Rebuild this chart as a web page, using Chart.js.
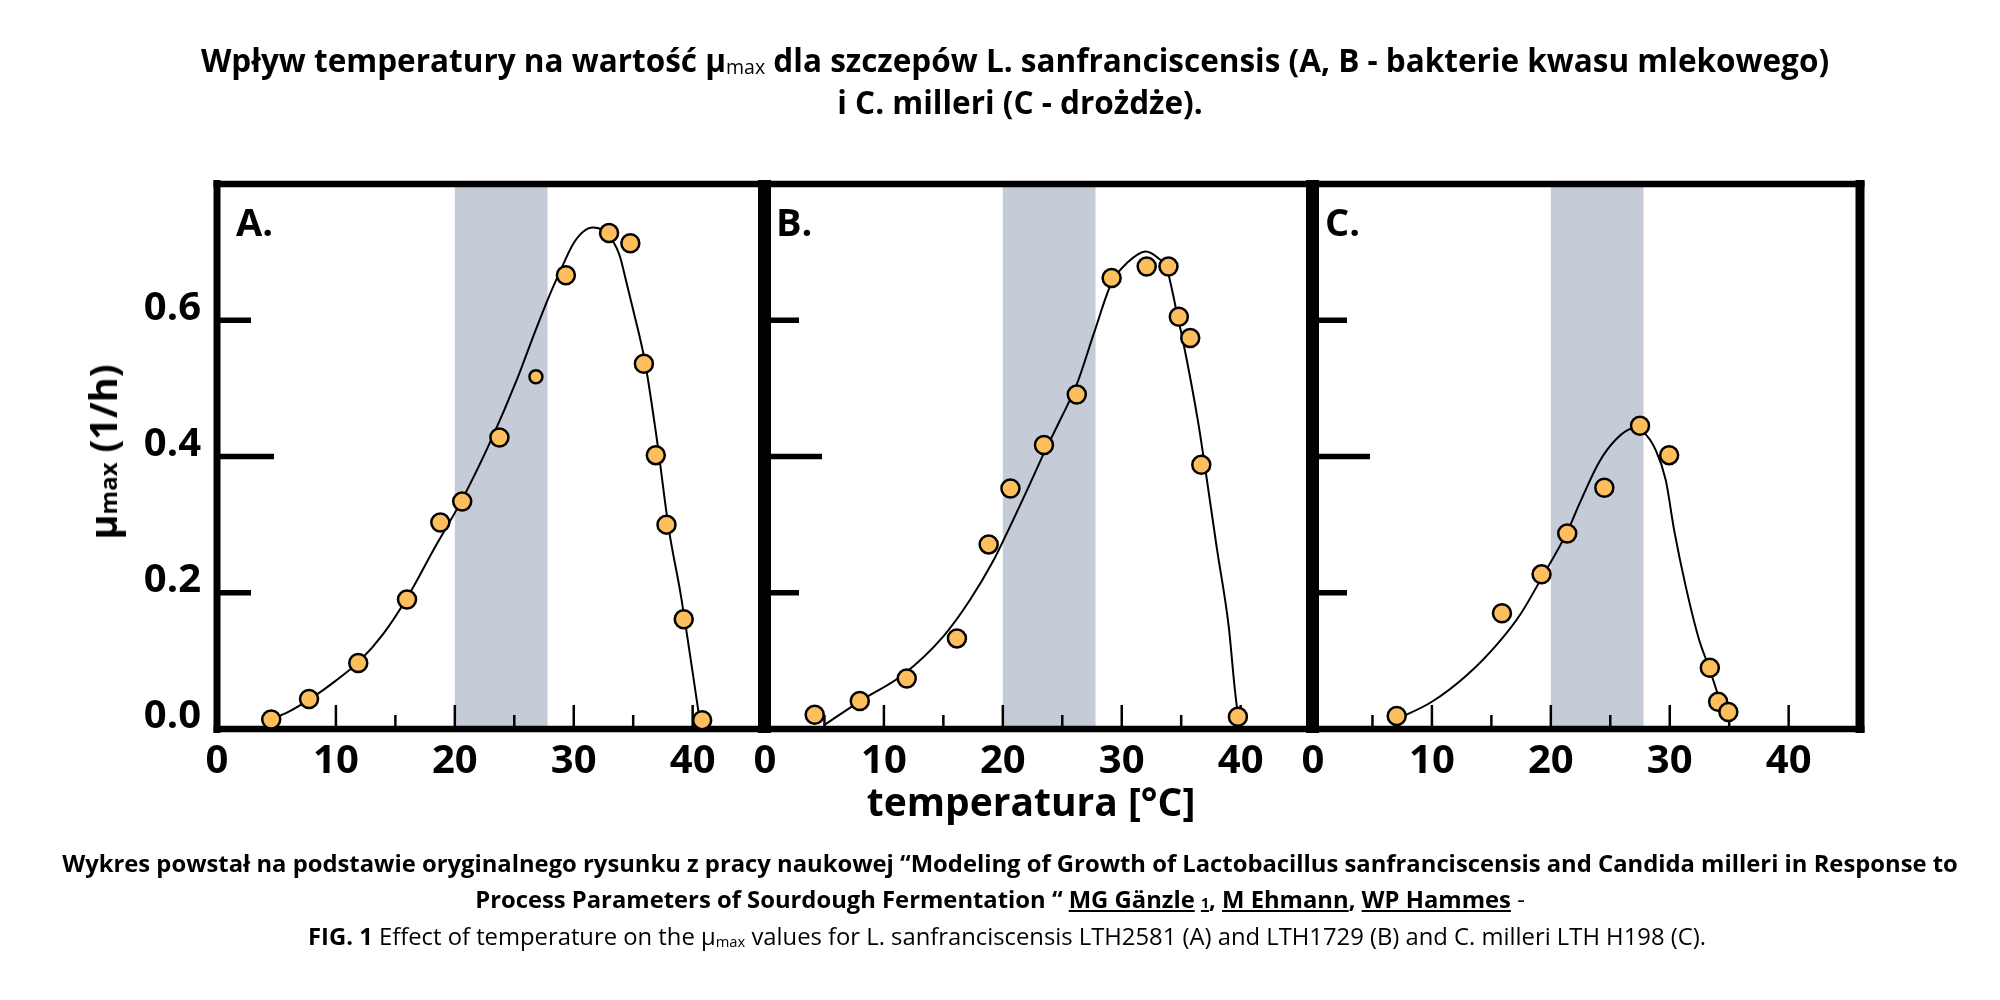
<!DOCTYPE html>
<html>
<head>
<meta charset="utf-8">
<script src="https://cdn.jsdelivr.net/npm/chart.js@4.4.1/dist/chart.umd.min.js"></script>
<style>
  body { margin: 0; background: #fff; }
  #page { position: relative; width: 2000px; height: 1000px; overflow: hidden; font-family: 'Open Sans', sans-serif; color: #000; }
  canvas { position: absolute; left: 0; top: 0; }
  .line { position: absolute; white-space: nowrap; text-align: center; }
  .title { font-weight: bold; font-size: 31.5px; }
  .foot { font-size: 23.8px; }
  .sub { font-size: 0.62em; vertical-align: -0.12em; font-weight: normal; }
  .letter { position: absolute; font-weight: bold; font-size: 38px; line-height: 1; }
</style>
</head>
<body>
<div id="page">
  <canvas id="chartA" width="2000" height="1000"></canvas>
  <canvas id="chartB" width="2000" height="1000"></canvas>
  <canvas id="chartC" width="2000" height="1000"></canvas>

  <div class="line title" style="left:15px; width:2000px; top:40px; line-height:40px;">Wpływ temperatury na wartość μ<span class="sub">max</span> dla szczepów L. sanfranciscensis (A, B - bakterie kwasu mlekowego)</div>
  <div class="line title" style="left:20px; width:2000px; top:82px; line-height:40px;">i C. milleri (C - drożdże).</div>

  <div class="letter" style="left:236px; top:202px;">A.</div>
  <div class="letter" style="left:776px; top:202px;">B.</div>
  <div class="letter" style="left:1325px; top:202px;">C.</div>

  <div style="position:absolute; left:102px; top:452px; transform:translate(-50%,-50%) rotate(-90deg); white-space:nowrap; font-weight:bold; font-size:38px; line-height:1;">μ<span style="font-size:24px;">max</span> (1/h)</div>
  <div class="line" style="left:31px; width:2000px; top:778px; line-height:46px; font-weight:bold; font-size:39px;">temperatura [°C]</div>

  <div class="line foot" style="left:10px; width:2000px; top:847px; line-height:32px; font-weight:bold;">Wykres powstał na podstawie oryginalnego rysunku z pracy naukowej “Modeling of Growth of Lactobacillus sanfranciscensis and Candida milleri in Response to</div>
  <div class="line foot" style="left:0px; width:2000px; top:883px; line-height:32px; font-weight:bold;">Process Parameters of Sourdough Fermentation “ <u>MG Gänzle</u> <u><span style="font-size:0.6em;">1</span></u>, <u>M Ehmann</u>, <u>WP Hammes</u> <span style="font-weight:normal;">-</span></div>
  <div class="line foot" style="left:7px; width:2000px; top:920px; line-height:32px;"><b>FIG. 1</b> Effect of temperature on the μ<span class="sub">max</span> values for L. sanfranciscensis LTH2581 (A) and LTH1729 (B) and C. milleri LTH H198 (C).</div>
</div>

<script>
// axes
const xRange = [0, 46];
const yRange = [0, 0.8];
const xTicks = [0, 10, 20, 30, 40];
const xMinorTicks = [5, 15, 25, 35];
const yTicks = [0, 0.2, 0.4, 0.6];
const optimumBand = [20, 27.8];

// A - L. sanfranciscensis LTH2581
const tempA = [4.56, 7.74, 11.88, 15.98, 18.78, 20.62, 23.75, 26.82, 29.34, 32.97, 34.76, 35.9, 36.9, 37.8, 39.25, 40.8];
const muA   = [0.014, 0.044, 0.097, 0.190, 0.303, 0.334, 0.428, 0.517, 0.666, 0.728, 0.713, 0.536, 0.402, 0.300, 0.161, 0.013];
const curveTempA = [4.0, 6.0, 8.0, 10.0, 12.0, 14.0, 16.0, 18.27, 20.59, 22.97, 25.2, 26.5, 27.9, 28.83, 29.95, 30.79, 31.63, 32.47, 33.3, 33.86, 34.4, 35.0, 36.0, 37.0, 38.0, 39.0, 40.0, 40.6];
const curveMuA   = [0.010, 0.025, 0.046, 0.071, 0.100, 0.140, 0.193, 0.265, 0.336, 0.421, 0.512, 0.572, 0.634, 0.671, 0.712, 0.730, 0.736, 0.732, 0.716, 0.695, 0.658, 0.615, 0.538, 0.424, 0.293, 0.197, 0.083, 0.012];

// B - L. sanfranciscensis LTH1729
const tempB = [4.18, 7.97, 11.92, 16.14, 18.81, 20.64, 23.46, 26.22, 29.15, 32.1, 33.93, 34.8, 35.76, 36.69, 39.77];
const muB   = [0.021, 0.041, 0.074, 0.133, 0.271, 0.353, 0.417, 0.491, 0.662, 0.679, 0.679, 0.605, 0.574, 0.388, 0.018];
const curveTempB = [5.0, 8.0, 11.63, 15.0, 17.26, 19.23, 20.08, 22.05, 23.46, 24.86, 26.2, 27.7, 29.15, 30.5, 32.0, 33.0, 33.8, 34.3, 34.7, 35.1, 36.4, 37.0, 38.0, 39.0, 39.5, 39.9];
const curveMuB   = [0.006, 0.041, 0.080, 0.136, 0.19, 0.248, 0.278, 0.351, 0.405, 0.455, 0.505, 0.583, 0.655, 0.685, 0.701, 0.692, 0.675, 0.639, 0.605, 0.574, 0.453, 0.385, 0.265, 0.15, 0.06, 0.002];

// C - C. milleri LTH H198
const tempC = [7.04, 15.89, 19.22, 21.38, 24.5, 27.5, 29.95, 33.37, 34.07, 34.93];
const muC   = [0.019, 0.170, 0.227, 0.287, 0.354, 0.445, 0.402, 0.090, 0.040, 0.025];
const curveTempC = [7.0, 10.0, 13.0, 15.66, 17.5, 19.17, 21.4, 22.39, 24.07, 25.47, 26.87, 27.7, 28.83, 29.67, 30.37, 31.35, 32.47, 33.31, 34.0, 34.71];
const curveMuC   = [0.014, 0.040, 0.080, 0.128, 0.170, 0.220, 0.290, 0.330, 0.392, 0.425, 0.441, 0.437, 0.409, 0.365, 0.292, 0.209, 0.131, 0.090, 0.053, 0.014];

const zip = (xs, ys) => xs.map((x, i) => ({ x: x, y: ys[i] }));

const bandPlugin = {
  id: 'band',
  beforeDatasetsDraw(chart) {
    const { ctx, chartArea, scales } = chart;
    const x1 = scales.x.getPixelForValue(optimumBand[0]);
    const x2 = scales.x.getPixelForValue(optimumBand[1]);
    ctx.save();
    ctx.fillStyle = '#c5ccd8';
    ctx.fillRect(x1, chartArea.top, x2 - x1, chartArea.bottom - chartArea.top);
    ctx.restore();
  }
};

// frame and inward tick marks, under the points
const framePlugin = {
  id: 'frame',
  beforeDatasetsDraw(chart, args, opts) {
    const { ctx, chartArea: a, scales } = chart;
    ctx.save();
    ctx.strokeStyle = '#000';
    ctx.lineCap = 'butt';
    ctx.lineWidth = 2.5;
    xTicks.slice(1).forEach(v => {
      const px = scales.x.getPixelForValue(v);
      ctx.beginPath(); ctx.moveTo(px, a.bottom); ctx.lineTo(px, a.bottom - 24); ctx.stroke();
    });
    xMinorTicks.forEach(v => {
      const px = scales.x.getPixelForValue(v);
      ctx.beginPath(); ctx.moveTo(px, a.bottom); ctx.lineTo(px, a.bottom - 14); ctx.stroke();
    });
    ctx.lineWidth = 5.5;
    yTicks.slice(1).forEach(v => {
      const py = scales.y.getPixelForValue(v);
      const len = v === 0.4 ? 57 : 34;
      ctx.beginPath(); ctx.moveTo(a.left, py); ctx.lineTo(a.left + len, py); ctx.stroke();
    });
    const side = (w, x1, y1, x2, y2) => {
      ctx.lineWidth = w;
      ctx.beginPath(); ctx.moveTo(x1, y1); ctx.lineTo(x2, y2); ctx.stroke();
    };
    const ext = 4;
    side(opts.top, a.left - opts.left / 2, a.top, a.right + opts.right / 2, a.top);
    side(opts.bottom, a.left - opts.left / 2, a.bottom, a.right + opts.right / 2, a.bottom);
    side(opts.left, a.left, a.top - ext, a.left, a.bottom + ext);
    side(opts.right, a.right, a.top - ext, a.right, a.bottom + ext);
    ctx.restore();
  }
};

const Y_AXIS_W = 200;
const X_AXIS_H = 90;

function makePanel(id, box, frame, showYLabels, points, curve, smallPoint) {
  new Chart(document.getElementById(id), {
    type: 'scatter',
    data: {
      datasets: [
        {
          data: points,
          order: 0,
          backgroundColor: '#fdbe5e',
          borderColor: '#000',
          borderWidth: 2.5,
          pointRadius: c => (c.dataIndex === smallPoint ? 6.5 : 9),
          pointHoverRadius: c => (c.dataIndex === smallPoint ? 6.5 : 9)
        },
        {
          type: 'line',
          data: curve,
          order: 1,
          borderColor: '#000',
          borderWidth: 2,
          pointRadius: 0,
          fill: false,
          cubicInterpolationMode: 'monotone'
        }
      ]
    },
    options: {
      responsive: false,
      animation: false,
      devicePixelRatio: 1,
      layout: { padding: { left: box.left - Y_AXIS_W, right: 2000 - box.right, top: box.top, bottom: 1000 - box.bottom - X_AXIS_H } },
      plugins: { legend: { display: false }, tooltip: { enabled: false }, frame: frame },
      scales: {
        x: {
          type: 'linear',
          min: xRange[0], max: xRange[1],
          afterFit: s => { s.height = X_AXIS_H; },
          afterBuildTicks: s => { s.ticks = xTicks.map(v => ({ value: v })); },
          grid: { display: false, drawTicks: false },
          border: { display: false },
          ticks: { color: '#000', padding: 9, maxRotation: 0, autoSkip: false, font: { family: 'Open Sans', weight: 'bold', size: 40 } }
        },
        y: {
          type: 'linear',
          min: yRange[0], max: yRange[1],
          afterFit: s => { s.width = Y_AXIS_W; },
          afterBuildTicks: s => { s.ticks = yTicks.map(v => ({ value: v })); },
          grid: { display: false, drawTicks: false },
          border: { display: false },
          ticks: { display: showYLabels, autoSkip: false, color: '#000', padding: 16, labelOffset: -12, callback: v => v.toFixed(1), font: { family: 'Open Sans', weight: 'bold', size: 40 } }
        }
      }
    },
    plugins: [bandPlugin, framePlugin]
  });
}

makePanel('chartA', { left: 217, right: 764, top: 184, bottom: 729 }, { left: 7, right: 12, top: 6.5, bottom: 6.5 }, true, zip(tempA, muA), zip(curveTempA, curveMuA), 7);
makePanel('chartB', { left: 765, right: 1312, top: 184, bottom: 729 }, { left: 12, right: 12, top: 6.5, bottom: 6.5 }, false, zip(tempB, muB), zip(curveTempB, curveMuB), -1);
makePanel('chartC', { left: 1313, right: 1860, top: 184, bottom: 729 }, { left: 12, right: 9, top: 6.5, bottom: 6.5 }, false, zip(tempC, muC), zip(curveTempC, curveMuC), -1);
</script>
</body>
</html>
